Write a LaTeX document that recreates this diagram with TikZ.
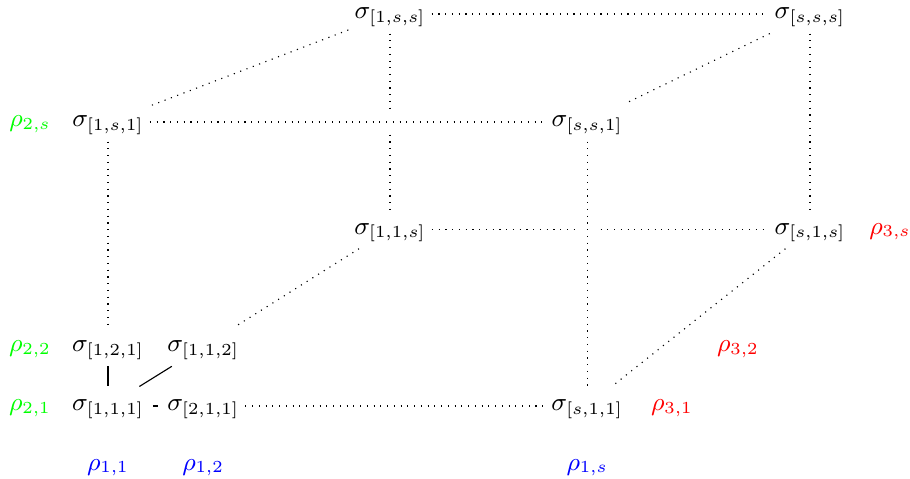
\documentclass[tikz,border=0pt]{standalone}
\usepackage{amsmath,amssymb}
\usepackage{tikz}
\usetikzlibrary{calc}

\tikzset{
  vtx/.style={font=\small, inner sep=2pt, text height=1.5ex, text depth=0.7ex},
  lbl/.style={vtx},
  back/.style={dotted},
  front/.style={dotted, preaction={draw=white, solid, line width=6pt}}
}

\begin{document}
\begin{tikzpicture}[scale=1]
\useasboundingbox (0,0) rectangle (11.375,5.975);

% Vertices of the cube
\node[vtx] (s1ss) at (4.875,5.8){$\sigma_{[1,s,s]}$};
\node[vtx] (ssss) at (10.125,5.8){$\sigma_{[s,s,s]}$};
\node[vtx] (s1s1) at (1.35,4.45){$\sigma_{[1,s,1]}$};
\node[vtx] (sss1) at (7.34,4.45){$\sigma_{[s,s,1]}$};
\node[vtx] (s11s) at (4.875,3.11){$\sigma_{[1,1,s]}$};
\node[vtx] (ss1s) at (10.125,3.11){$\sigma_{[s,1,s]}$};
\node[vtx] (s121) at (1.35,1.64){$\sigma_{[1,2,1]}$};
\node[vtx] (s112) at (2.54,1.64){$\sigma_{[1,1,2]}$};
\node[vtx] (s111) at (1.35,0.9){$\sigma_{[1,1,1]}$};
\node[vtx] (s211) at (2.54,0.9){$\sigma_{[2,1,1]}$};
\node[vtx] (ss11) at (7.34,0.9){$\sigma_{[s,1,1]}$};

% Labels
\node[lbl,text=green] (r2s) at (0.375,4.45){$\rho_{2,s}$};
\node[lbl,text=green] (r22) at (0.375,1.64){$\rho_{2,2}$};
\node[lbl,text=green] (r21) at (0.375,0.9){$\rho_{2,1}$};
\node[lbl,text=blue] (r11) at (1.35,0.16){$\rho_{1,1}$};
\node[lbl,text=blue] (r12) at (2.54,0.16){$\rho_{1,2}$};
\node[lbl,text=blue] (r1s) at (7.34,0.16){$\rho_{1,s}$};
\node[lbl,text=red] (r3s) at (11.125,3.11){$\rho_{3,s}$};
\node[lbl,text=red] (r32) at (9.225,1.64){$\rho_{3,2}$};
\node[lbl,text=red] (r31) at (8.4,0.9){$\rho_{3,1}$};

% Solid edges
\draw (s121)--(s111);
\draw (s112)--(s111);
\draw[shorten <=1pt, shorten >=1pt] (s111)--(s211);

% Dotted edges behind
\draw[back] (s1ss)--(ssss);
\draw[back] (s1ss)--(s1s1);
\draw[back] (ssss)--(sss1);
\draw[back] (ssss)--(ss1s);
\draw[back] (s1ss)--(s11s);
\draw[back] (s11s)--(ss1s);
\draw[back] (s11s)--(s112);
\draw[back] (ss1s)--(ss11);
\draw[back] (s1s1)--(s121);
\draw[back] (s211)--(ss11);

% Dotted edges in front
\draw[front] (s1s1)--(sss1);
\draw[front] (sss1)--(ss11);

\end{tikzpicture}
\end{document}
